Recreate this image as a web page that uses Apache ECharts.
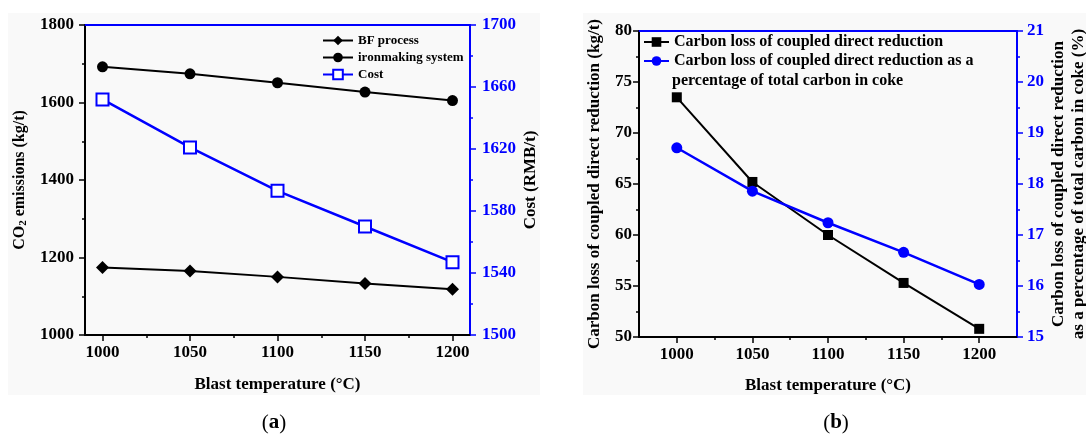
<!DOCTYPE html>
<html>
<head>
<meta charset="utf-8">
<title>Blast temperature</title>
<script src="https://cdn.jsdelivr.net/npm/echarts@6/dist/echarts.min.js"></script>
<style>
html, body { margin: 0; padding: 0; background: #fff; }
#chart { width: 1086px; height: 436px; }
</style>
</head>
<body>
<div id="chart"></div>
<script>
// values
var temps = [1000, 1050, 1100, 1150, 1200];
var bfProcess = [1174, 1165, 1150, 1133, 1118];
var ironmaking = [1692, 1674, 1651, 1627, 1605];
var cost = [1652, 1621, 1593, 1570, 1547];
var carbonLoss = [73.5, 65.2, 60.0, 55.3, 50.8];
var carbonPct = [18.71, 17.86, 17.24, 16.66, 16.03];
var tempTicks = [1000, 1050, 1100, 1150, 1200];
var tempMinorTicks = [1025, 1075, 1125, 1175];

var pctName = 'Carbon loss of coupled direct reduction as a percentage of total carbon in coke';
var lossName = 'Carbon loss of coupled direct reduction';

function init() {
    var myChart = echarts.init(document.getElementById('chart'));
    var font = "'Liberation Serif', 'Times New Roman', serif";
    var blue = '#0000ff';
    var black = '#000000';

    function pairs(ys) {
        var out = [];
        for (var i = 0; i < temps.length; i++) {
            out.push([temps[i], ys[i]]);
        }
        return out;
    }

    function txt(size, color) {
        return { fontFamily: font, fontWeight: 'bold', fontSize: size, color: color };
    }

    // plain numbers, no thousands separator
    function plain(v) {
        return String(v);
    }

    function xAxes(gridIndex, min, max, nameGap) {
        return [
            {
                type: 'value', gridIndex: gridIndex, min: min, max: max, position: 'bottom',
                axisLine: { show: true, onZero: false, lineStyle: { color: black, width: 2 } },
                axisTick: { show: true, length: 6, customValues: tempTicks, lineStyle: { color: black, width: 1.5 } },
                axisLabel: Object.assign({ customValues: tempTicks, margin: 9, formatter: plain }, txt(17, black)),
                splitLine: { show: false },
                name: 'Blast temperature (°C)', nameLocation: 'middle', nameGap: nameGap,
                nameTextStyle: txt(17, black)
            },
            {
                type: 'value', gridIndex: gridIndex, min: min, max: max, position: 'top',
                axisLine: { show: true, onZero: false, lineStyle: { color: blue, width: 2 } },
                axisTick: { show: false }, axisLabel: { show: false }, splitLine: { show: false }
            },
            {
                type: 'value', gridIndex: gridIndex, min: min, max: max, position: 'bottom',
                axisLine: { show: false },
                axisTick: { show: true, length: 3, customValues: tempMinorTicks, lineStyle: { color: black, width: 1.5 } },
                axisLabel: { show: false }, splitLine: { show: false }
            }
        ];
    }

    function yAxis(gridIndex, pos, min, max, interval, color, margin) {
        return {
            type: 'value', gridIndex: gridIndex, position: pos, min: min, max: max, interval: interval,
            axisLine: { show: true, onZero: false, lineStyle: { color: color, width: 2 } },
            axisTick: { show: true, length: 6, lineStyle: { color: color, width: 1.5 } },
            minorTick: { show: true, splitNumber: 2, length: 3, lineStyle: { color: color, width: 1.5 } },
            axisLabel: Object.assign({ margin: margin, formatter: plain }, txt(17, color)),
            splitLine: { show: false }
        };
    }

    var xs = xAxes(0, 990, 1210, 41).concat(xAxes(1, 975, 1225, 40));

    var y0 = yAxis(0, 'left', 1000, 1800, 200, black, 11);
    y0.name = '{a|CO}{s|2}{a| emissions (kg/t)}';
    y0.nameLocation = 'middle';
    y0.nameGap = 56;
    y0.nameTextStyle = {
        rich: {
            a: { fontFamily: font, fontWeight: 'bold', fontSize: 16, color: black, lineHeight: 18 },
            s: { fontFamily: font, fontWeight: 'bold', fontSize: 11, color: black, lineHeight: 18, verticalAlign: 'bottom', padding: [6, 0, 0, 0] }
        }
    };

    var y1 = yAxis(0, 'right', 1500, 1700, 40, blue, 12);
    y1.name = 'Cost (RMB/t)';
    y1.nameLocation = 'middle';
    y1.nameGap = 52;
    y1.nameTextStyle = txt(17, black);

    var y2 = yAxis(1, 'left', 50, 80, 5, black, 7);
    y2.name = 'Carbon loss of coupled direct reduction (kg/t)';
    y2.nameLocation = 'middle';
    y2.nameGap = 36;
    y2.nameTextStyle = txt(17, black);

    var y3 = yAxis(1, 'right', 15, 21, 1, blue, 10);
    y3.name = 'Carbon loss of coupled direct reduction\nas a percentage of total carbon in coke (%)';
    y3.nameLocation = 'middle';
    y3.nameGap = 32;
    y3.nameTextStyle = Object.assign({ lineHeight: 20 }, txt(17, black));

    var option = {
        backgroundColor: '#ffffff',
        animation: false,
        grid: [
            { left: 85, right: 616, top: 25, bottom: 101, outerBoundsMode: 'none' },
            { left: 639, right: 69, top: 31, bottom: 99, outerBoundsMode: 'none' }
        ],
        legend: [
            {
                data: ['BF process', 'ironmaking system', 'Cost'],
                orient: 'vertical', left: 322, top: 34, padding: 0,
                itemWidth: 30, itemHeight: 12, itemGap: 4,
                textStyle: txt(13, black)
            },
            {
                data: [lossName, pctName],
                orient: 'vertical', left: 643, top: 34, padding: 0,
                itemWidth: 25, itemHeight: 12, itemGap: 3,
                textStyle: txt(16, black),
                formatter: function (name) {
                    return name === pctName ? 'Carbon loss of coupled direct reduction as a' : name;
                }
            }
        ],
        xAxis: xs,
        yAxis: [y0, y1, y2, y3],
        graphic: [
            { type: 'rect', z: -1, shape: { x: 8, y: 13, width: 532, height: 382 }, style: { fill: '#f9f9f9' } },
            { type: 'rect', z: -1, shape: { x: 583, y: 13, width: 503, height: 382 }, style: { fill: '#f9f9f9' } },
            {
                type: 'text', x: 672, y: 81,
                style: { text: 'percentage of total carbon in coke', font: 'bold 16px ' + font, fill: black, align: 'left', verticalAlign: 'middle' }
            },
            {
                type: 'text', x: 274, y: 423,
                style: {
                    text: '{p|(}{b|a}{p|)}', align: 'center', verticalAlign: 'middle', fill: black,
                    rich: { p: { font: '21px ' + font }, b: { font: 'bold 21px ' + font } }
                }
            },
            {
                type: 'text', x: 836, y: 423,
                style: {
                    text: '{p|(}{b|b}{p|)}', align: 'center', verticalAlign: 'middle', fill: black,
                    rich: { p: { font: '21px ' + font }, b: { font: 'bold 21px ' + font } }
                }
            }
        ],
        series: [
            {
                name: 'BF process', type: 'line', xAxisIndex: 0, yAxisIndex: 0,
                data: pairs(bfProcess), symbol: 'diamond', symbolSize: 13,
                itemStyle: { color: black }, lineStyle: { color: black, width: 2 }
            },
            {
                name: 'ironmaking system', type: 'line', xAxisIndex: 0, yAxisIndex: 0,
                data: pairs(ironmaking), symbol: 'circle', symbolSize: 11,
                itemStyle: { color: black }, lineStyle: { color: black, width: 2 }
            },
            {
                name: 'Cost', type: 'line', xAxisIndex: 0, yAxisIndex: 1,
                data: pairs(cost), symbol: 'emptyRect', symbolSize: 12,
                itemStyle: { color: blue, borderColor: blue, borderWidth: 1.5 },
                lineStyle: { color: blue, width: 2.5 }
            },
            {
                name: lossName, type: 'line', xAxisIndex: 3, yAxisIndex: 2,
                data: pairs(carbonLoss), symbol: 'rect', symbolSize: 10,
                itemStyle: { color: black }, lineStyle: { color: black, width: 2 }
            },
            {
                name: pctName, type: 'line', xAxisIndex: 3, yAxisIndex: 3,
                data: pairs(carbonPct), symbol: 'circle', symbolSize: 11,
                itemStyle: { color: blue }, lineStyle: { color: blue, width: 2.5 }
            }
        ]
    };
    myChart.setOption(option);
}
document.addEventListener('DOMContentLoaded', init);
</script>
</body>
</html>
